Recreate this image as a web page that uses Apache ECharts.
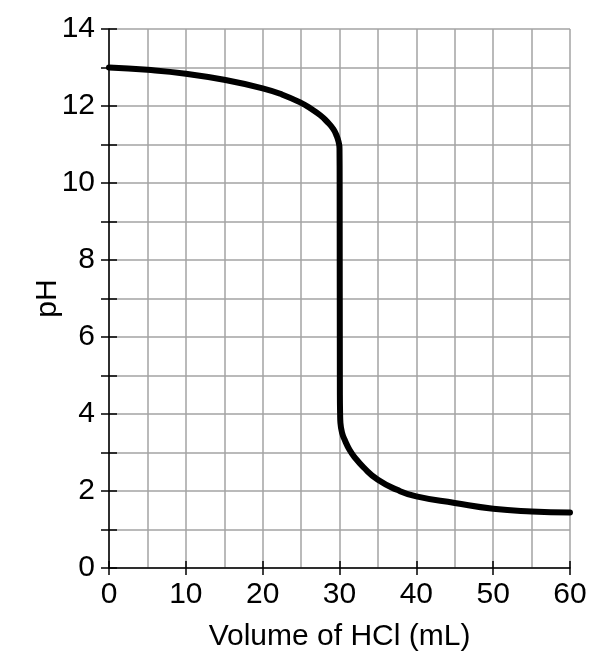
<!DOCTYPE html>
<html>
<head>
<meta charset="utf-8">
<script src="https://cdn.jsdelivr.net/npm/echarts@6/dist/echarts.min.js"></script>
<style>
html,body{margin:0;padding:0;background:#fff;}
#chart{width:602px;height:670px;}
</style>
</head>
<body>
<div id="chart"></div>
<script>
// Titration curve values
var volume = [0, 5, 10, 15, 20, 22.5, 25, 26.2, 27.5, 28.35, 29.2, 29.66, 29.9, 30.0, 30.02, 30.05, 30.08, 30.12, 30.35, 30.74, 31.3, 32.0, 33.1, 35.0, 37.5, 40.0, 45.0, 50.0, 55.0, 60.0];
var ph     = [13.0, 12.94, 12.84, 12.68, 12.46, 12.3, 12.08, 11.94, 11.76, 11.6, 11.4, 11.21, 11.05, 10.9, 10.0, 4.5, 4.0, 3.77, 3.5, 3.3, 3.07, 2.87, 2.62, 2.29, 2.03, 1.86, 1.69, 1.54, 1.47, 1.44];
var xLabelStep = 10;
var yLabelStep = 2;
var xAxisTitle = 'Volume of HCl (mL)';
var yAxisTitle = 'pH';

var FONT = '"Liberation Sans", Arial, Helvetica, sans-serif';
var data = volume.map(function (v, i) { return [v, ph[i]]; });

var chart = echarts.init(document.getElementById('chart'), null, {renderer: 'canvas'});
var gridColor = '#a3a3a3';
chart.setOption({
  animation: false,
  backgroundColor: '#ffffff',
  grid: {left: 109, right: 32, top: 29, bottom: 102, containLabel: false},
  xAxis: [
    { // grid lines every 5
      type: 'value', min: 0, max: 60, interval: 5, position: 'bottom',
      axisLine: {show: true, lineStyle: {color: '#000', width: 1.5}},
      axisTick: {show: false},
      axisLabel: {show: false},
      splitLine: {show: true, lineStyle: {color: gridColor, width: 1.5}},
      name: xAxisTitle, nameLocation: 'middle', nameGap: 54, nameMoveOverlap: false,
      nameTextStyle: {color: '#000', fontSize: 30, fontFamily: FONT}
    },
    { // labels + outside ticks
      type: 'value', min: 0, max: 60, interval: xLabelStep, position: 'bottom',
      axisLine: {show: false},
      axisTick: {show: true, inside: false, length: 7, lineStyle: {color: '#000', width: 1.5}},
      axisLabel: {show: true, margin: 12, color: '#000', fontSize: 30, fontFamily: FONT},
      splitLine: {show: false}
    },
    { // inside ticks
      type: 'value', min: 0, max: 60, interval: xLabelStep, position: 'bottom',
      axisLine: {show: false},
      axisTick: {show: true, inside: true, length: 7, lineStyle: {color: '#000', width: 1.5}},
      axisLabel: {show: false},
      splitLine: {show: false}
    }
  ],
  yAxis: [
    {
      type: 'value', min: 0, max: 14, interval: 1, position: 'left',
      axisLine: {show: true, lineStyle: {color: '#000', width: 1.5}},
      axisTick: {show: true, inside: false, length: 8, lineStyle: {color: '#000', width: 1.5}},
      axisLabel: {show: true, margin: 14, color: '#000', fontSize: 30, fontFamily: FONT,
        formatter: function (v) { return (v % yLabelStep === 0) ? String(v) : ''; }},
      splitLine: {show: true, lineStyle: {color: gridColor, width: 1.5}},
      name: yAxisTitle, nameLocation: 'middle', nameGap: 46, nameMoveOverlap: false,
      nameTextStyle: {color: '#000', fontSize: 30, fontFamily: FONT}
    },
    {
      type: 'value', min: 0, max: 14, interval: 1, position: 'left',
      axisLine: {show: false},
      axisTick: {show: true, inside: true, length: 8, lineStyle: {color: '#000', width: 1.5}},
      axisLabel: {show: false},
      splitLine: {show: false}
    }
  ],
  series: [{
    type: 'line',
    xAxisIndex: 0, yAxisIndex: 0,
    data: data,
    showSymbol: false,
    smooth: 0.5,
    lineStyle: {color: '#000', width: 6, cap: 'round', join: 'round'},
    z: 5
  }]
});
</script>
</body>
</html>
